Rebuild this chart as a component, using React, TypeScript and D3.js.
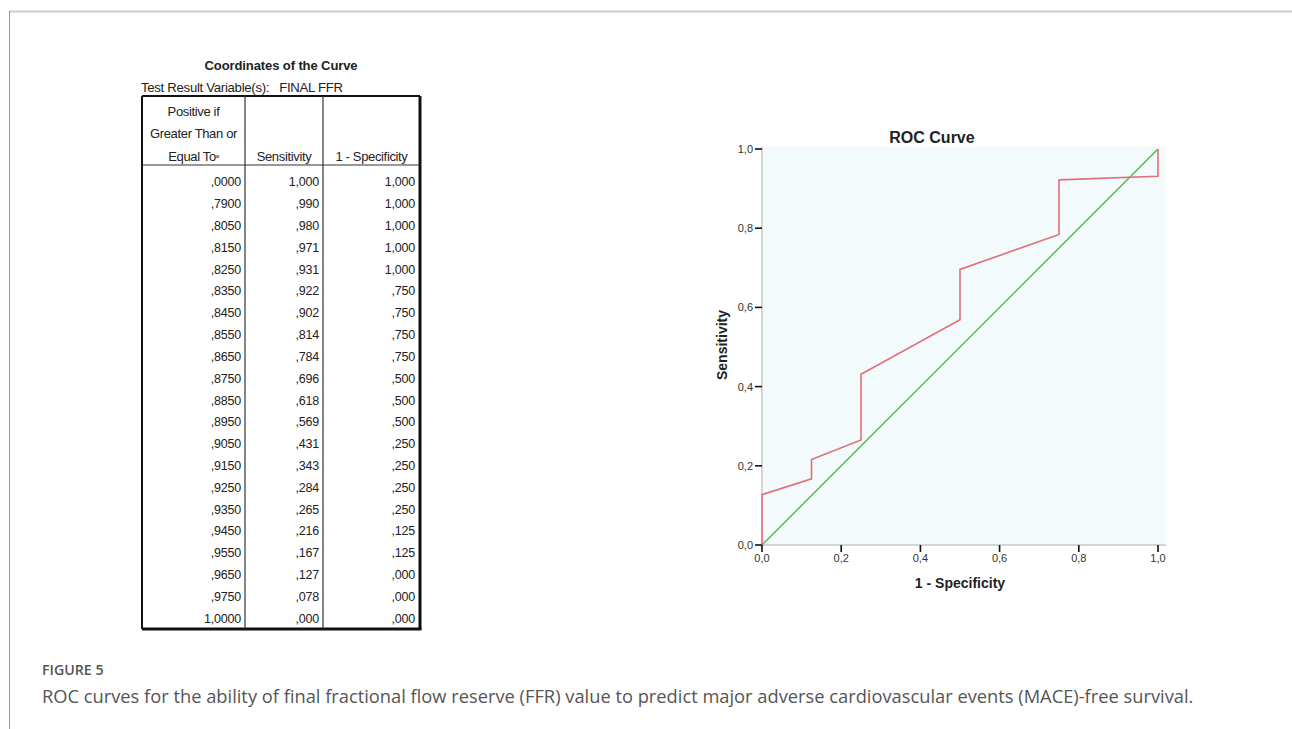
import React from "react";
import * as d3 from "d3";

const thresholds = [",0000", ",7900", ",8050", ",8150", ",8250", ",8350", ",8450", ",8550", ",8650", ",8750", ",8850", ",8950", ",9050", ",9150", ",9250", ",9350", ",9450", ",9550", ",9650", ",9750", "1,0000"];
const sensitivity = [1.0, 0.99, 0.98, 0.971, 0.931, 0.922, 0.902, 0.814, 0.784, 0.696, 0.618, 0.569, 0.431, 0.343, 0.284, 0.265, 0.216, 0.167, 0.127, 0.078, 0.0];
const oneMinusSpec = [1.0, 1.0, 1.0, 1.0, 1.0, 0.75, 0.75, 0.75, 0.75, 0.5, 0.5, 0.5, 0.25, 0.25, 0.25, 0.25, 0.125, 0.125, 0.0, 0.0, 0.0];
const axisTicks = [0, 0.2, 0.4, 0.6, 0.8, 1.0];
const headerCol1 = ["Positive if", "Greater Than or", "Equal To"];

const fmtSens = (v: number) => (v >= 1 ? "1,000" : "," + d3.format(".3f")(v).split(".")[1]);
const fmtTick = (v: number) => d3.format(".1f")(v).replace(".", ",");

export default function App() {
  const x = d3.scaleLinear().domain([0, 1]).range([762, 1158]);
  const y = d3.scaleLinear().domain([0, 1]).range([545, 149]);
  const pts = oneMinusSpec.map((fx, i) => [fx, sensitivity[i]] as [number, number]).reverse();
  const roc = d3.line<[number, number]>().x((d) => x(d[0])).y((d) => y(d[1]))(pts) || "";
  const diag = d3.line<[number, number]>().x((d) => x(d[0])).y((d) => y(d[1]))([[0, 0], [1, 1]]) || "";

  const tL = 142, c1 = 245, c2 = 323, tR = 420;
  const tTop = 96, hBot = 165, tBot = 629;
  const row = d3.scaleLinear().domain([0, 20]).range([181.7, 618.3]);
  const tf = "'Liberation Sans', Arial, sans-serif";

  return (
    <svg width={1292} height={729} style={{ position: "absolute", left: 0, top: 0, background: "#fff" }}>
      <line x1={9} x2={1292} y1={11.5} y2={11.5} stroke="#cccccc" strokeWidth={2} />
      <line x1={9.5} x2={9.5} y1={11} y2={729} stroke="#999" strokeWidth={1} />

      <g fontFamily={tf} fill="#222">
        <text x={281} y={69.5} textAnchor="middle" fontSize={13} fontWeight="bold" letterSpacing={-0.1}>Coordinates of the Curve</text>
        <text x={141} y={92} fontSize={13.2} letterSpacing={-0.3} style={{ whiteSpace: "pre" }}>{"Test Result Variable(s):   FINAL FFR"}</text>
        <line x1={tL} x2={tR} y1={tTop} y2={tTop} stroke="#111" strokeWidth={2} />
        <line x1={tL} x2={tL} y1={tTop} y2={tBot} stroke="#111" strokeWidth={2} />
        <line x1={tR} x2={tR} y1={tTop} y2={tBot} stroke="#111" strokeWidth={3} />
        <line x1={tL} x2={tR + 1.5} y1={tBot} y2={tBot} stroke="#111" strokeWidth={3} />
        <line x1={c1} x2={c1} y1={tTop} y2={tBot} stroke="#333" strokeWidth={1.2} />
        <line x1={c2} x2={c2} y1={tTop} y2={tBot} stroke="#333" strokeWidth={1.2} />
        <line x1={tL} x2={tR} y1={hBot} y2={hBot} stroke="#333" strokeWidth={1.2} />
        {headerCol1.map((h, i) => (
          <text key={h} x={(tL + c1) / 2} y={116 + i * 22.3} textAnchor="middle" fontSize={13} letterSpacing={-0.35}>
            {h}
            {i === 2 ? <tspan fontSize={6} dy={-3}>a</tspan> : null}
          </text>
        ))}
        <text x={(c1 + c2) / 2} y={160.6} textAnchor="middle" fontSize={13} letterSpacing={-0.35}>Sensitivity</text>
        <text x={(c2 + tR) / 2} y={160.6} textAnchor="middle" fontSize={13} letterSpacing={-0.35}>1 - Specificity</text>
        {thresholds.map((t, i) => (
          <g key={t} fontSize={12.5} letterSpacing={-0.2} textAnchor="end">
            <text x={c1 - 4} y={row(i) + 4.5}>{t}</text>
            <text x={c2 - 4} y={row(i) + 4.5}>{fmtSens(sensitivity[i])}</text>
            <text x={tR - 5} y={row(i) + 4.5}>{fmtSens(oneMinusSpec[i])}</text>
          </g>
        ))}
      </g>

      <g fontFamily={tf}>
        <rect x={762} y={147} width={404} height={398} fill="#f3fafc" />
        <line x1={762} x2={762} y1={147} y2={545} stroke="#c8c8c8" strokeWidth={1.5} />
        <line x1={762} x2={1166} y1={545} y2={545} stroke="#c8c8c8" strokeWidth={1.5} />
        <path d={diag} fill="none" stroke="#5cb85c" strokeWidth={1.5} />
        <path d={roc} fill="none" stroke="#e0707a" strokeWidth={1.6} />
        {axisTicks.map((t) => (
          <g key={"y" + t}>
            <line x1={755} x2={762} y1={y(t)} y2={y(t)} stroke="#111" strokeWidth={1.6} />
            <text x={753} y={y(t) + 4} textAnchor="end" fontSize={11} fill="#333">{fmtTick(t)}</text>
          </g>
        ))}
        {axisTicks.map((t) => (
          <g key={"x" + t}>
            <line x1={x(t)} x2={x(t)} y1={545} y2={552} stroke="#111" strokeWidth={1.6} />
            <text x={x(t)} y={562} textAnchor="middle" fontSize={11} fill="#333">{fmtTick(t)}</text>
          </g>
        ))}
        <text x={932} y={143} textAnchor="middle" fontSize={16} fontWeight="bold" fill="#222">ROC Curve</text>
        <text x={960} y={588} textAnchor="middle" fontSize={14} fontWeight="bold" fill="#222">1 - Specificity</text>
        <text transform="translate(727,345) rotate(-90)" textAnchor="middle" fontSize={14} fontWeight="bold" fill="#222">Sensitivity</text>
      </g>

      <text x={42} y={675} fontFamily="'Open Sans', sans-serif" fontSize={14.2} fill="#555" fontWeight={600}>FIGURE 5</text>
      <text x={42} y={703} fontFamily="'Open Sans', sans-serif" fontSize={18.3} fill="#555">
        ROC curves for the ability of final fractional flow reserve (FFR) value to predict major adverse cardiovascular events (MACE)-free survival.
      </text>
    </svg>
  );
}
